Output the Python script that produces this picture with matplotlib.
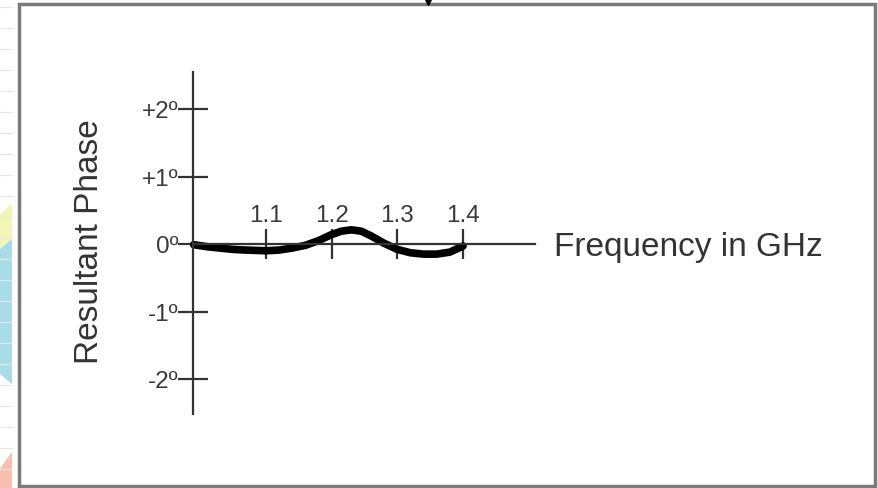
import matplotlib.pyplot as plt
from matplotlib.patches import Rectangle, Polygon

plt.rcParams['font.family'] = ['Liberation Sans', 'DejaVu Sans']

freq = [0.99, 1.01, 1.03, 1.05, 1.07, 1.10, 1.12, 1.14, 1.16, 1.18, 1.20, 1.215,
        1.23, 1.245, 1.26, 1.28, 1.30, 1.32, 1.34, 1.36, 1.38, 1.40]
phase = [-0.01, -0.04, -0.06, -0.08, -0.09, -0.10, -0.09, -0.06, -0.02, 0.05, 0.14, 0.19,
         0.21, 0.19, 0.12, 0.01, -0.08, -0.13, -0.15, -0.15, -0.12, -0.03]

freq_ticks = [1.1, 1.2, 1.3, 1.4]
freq_labels = ['1.1', '1.2', '1.3', '1.4']
phase_ticks = [-2, -1, 0, 1, 2]
phase_labels = ['-2º', '-1º', '0º', '+1º', '+2º']

W, H = 879, 489
fig = plt.figure(figsize=(W / 100, H / 100), dpi=100)

# page background left of the frame: faint grid and some pastel shapes
bg = fig.add_axes([0, 0, 1, 1])
bg.set_xlim(0, W)
bg.set_ylim(H, 0)
bg.axis('off')
for gy in range(8, H, 21):
    bg.plot([0, 12], [gy, gy], color='#e6e6e6', lw=0.8)
bg.add_patch(Polygon([[0, 215], [12, 205], [12, 240], [0, 250]], color='#f2f5b5', lw=0))
bg.add_patch(Polygon([[0, 250], [12, 240], [12, 385], [0, 375]], color='#a9dce8', lw=0))
bg.add_patch(Polygon([[0, 470], [12, 453], [12, 489], [0, 489]], color='#f6bfae', lw=0))
bg.add_patch(Rectangle((19.5, 4.5), 856, 482, fill=False, ec='#7a7a7a', lw=2.5))
bg.plot([428], [2], marker='v', color='black', ms=6)

ax = fig.add_axes([0, 0, 1, 1], facecolor='none')
px_per_ghz = 657.0
px_per_deg = 67.5
x0_px, y0_px = 193, 245
ax.set_xlim(0.989 - x0_px / px_per_ghz, 0.989 + (W - x0_px) / px_per_ghz)
ax.set_ylim(-(H - y0_px) / px_per_deg, y0_px / px_per_deg)

axis_col = '#333333'
for s in ['right', 'bottom']:
    ax.spines[s].set_visible(False)
ax.spines['left'].set_position(('data', 0.989))
ax.spines['left'].set_bounds(-2.52, 2.55)
ax.spines['top'].set_position(('data', 0))
ax.spines['top'].set_bounds(0.989, 1.51)
for s in ['left', 'top']:
    ax.spines[s].set_color(axis_col)
    ax.spines[s].set_linewidth(1.6)

ax.xaxis.set_ticks_position('top')
ax.set_xticks(freq_ticks)
ax.set_xticklabels(freq_labels)
ax.set_yticks(phase_ticks)
ax.set_yticklabels(phase_labels)
ax.tick_params(axis='x', direction='inout', length=22, width=1.6, color=axis_col,
               labelsize=17.5, labelcolor='#3a3a3a', pad=2)
ax.tick_params(axis='y', direction='inout', length=21, width=1.6, color=axis_col,
               labelsize=17.5, labelcolor='#3a3a3a', pad=0)

ax.plot(freq, phase, color='black', lw=5.5, solid_capstyle='round', solid_joinstyle='round')

ax.text(1.538, -0.17, 'Frequency in GHz', fontsize=24, color='#333333',
        ha='left', va='baseline')
ax.text(90 / W, 1 - 242 / H, 'Resultant Phase', transform=ax.transAxes, fontsize=24,
        color='#333333', rotation=90, ha='center', va='center')

fig.savefig('out.png', dpi=100)
